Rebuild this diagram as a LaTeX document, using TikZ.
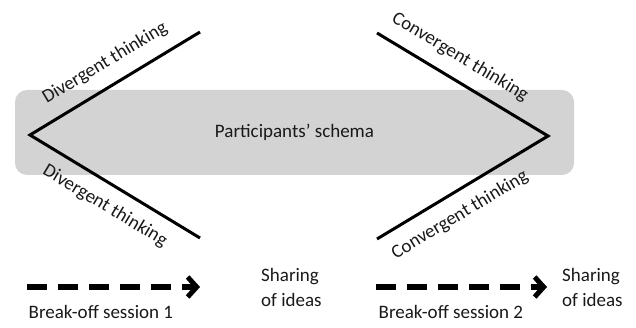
\documentclass[tikz,border=0pt]{standalone}
\usepackage{fontspec}
\setmainfont{Carlito}
\usetikzlibrary{arrows.meta}
\definecolor{schemagray}{RGB}{211,211,211}
\definecolor{txt}{RGB}{25,25,25}
\begin{document}
\begin{tikzpicture}[x=1pt,y=-1pt,
  font=\fontsize{19}{23}\selectfont,
  every node/.style={text=txt, inner sep=0pt},
  schemabox/.style={fill=schemagray, rounded corners=12pt, minimum width=559pt, minimum height=85pt},
  thinkline/.style={line width=3pt, line join=miter, black},
  dasharrow/.style={line width=6pt, dash pattern=on 20pt off 11pt, black,
     -{Straight Barb[length=9pt, width=20pt, line width=5pt]}},
  lbl/.style={anchor=base west}
]
\useasboundingbox (0,0) rectangle (636,328);
\node[schemabox] (schema) at (294.5,132.5) {};
\node (schematext) at (294.5,132) {Participants’ schema};
% left (divergent) wedge
\coordinate (LU) at (200,32);
\coordinate (LV) at (30,135);
\coordinate (LD) at (200,238);
\draw[thinkline] (LU) -- (LV) -- (LD);
\node[rotate=31] (div1) at (105,63) {Divergent thinking};
\node[rotate=-31] (div2) at (105,206) {Divergent thinking};
% right (convergent) wedge
\coordinate (RU) at (377,33);
\coordinate (RV) at (548,136);
\coordinate (RD) at (377,239);
\draw[thinkline] (RU) -- (RV) -- (RD);
\node[rotate=-31] (con1) at (460,57) {Convergent thinking};
\node[rotate=31] (con2) at (460,215) {Convergent thinking};
% bottom arrows
\coordinate (A1s) at (27,287);
\coordinate (A1e) at (200,287);
\draw[dasharrow] (A1s) -- (A1e);
\coordinate (A2s) at (376,287);
\coordinate (A2e) at (547,287);
\draw[dasharrow] (A2s) -- (A2e);
\node[lbl] (sh1) at (261,281) {Sharing};
\node[lbl] (oi1) at (261,306) {of ideas};
\node[lbl] (sh2) at (562,281) {Sharing};
\node[lbl] (oi2) at (562,306) {of ideas};
\node[lbl] (bs1) at (28.5,318) {Break-off session 1};
\node[lbl] (bs2) at (378.5,318) {Break-off session 2};
\end{tikzpicture}
\end{document}
